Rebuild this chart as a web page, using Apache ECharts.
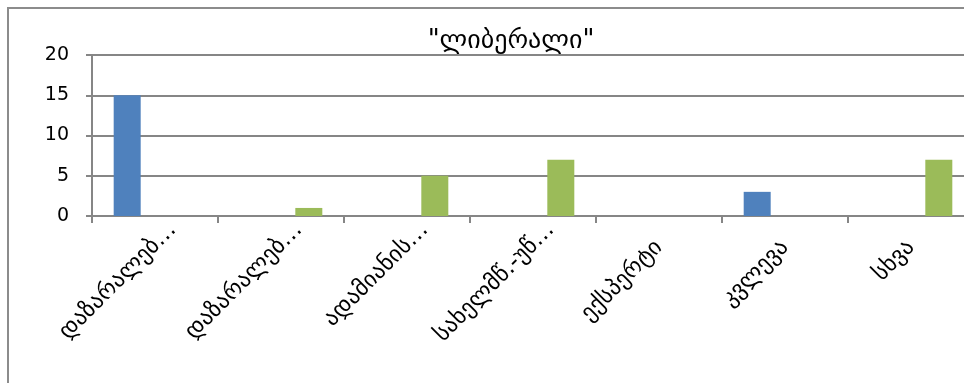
<!DOCTYPE html>
<html>
<head>
<meta charset="utf-8">
<script src="https://cdn.jsdelivr.net/npm/echarts@6/dist/echarts.min.js"></script>
<style>
  html, body { margin: 0; padding: 0; background: #fff; overflow: hidden; }
  #chart { width: 990px; height: 383px; }
</style>
</head>
<body>
<div id="chart"></div>
<script>
// categories (truncated as in the source chart)
const categories = [
  'დაზარალებ…',
  'დაზარალებ…',
  'ადამიანის…',
  'სახელმწ.-უწ…',
  'ექსპერტი',
  'კვლევა',
  'სხვა'
];
const seriesBlue = [15, 0, 0, 0, 0, 3, 0];
const seriesRed = [0, 0, 0, 0, 0, 0, 0];
const seriesGreen = [0, 1, 5, 7, 0, 0, 7];
const yTicks = { min: 0, max: 20, interval: 5 };

const chart = echarts.init(document.getElementById('chart'));

const gray = '#868686';

// truncated labels sit a little further along their slant, like in the original
const xData = categories.map((c) => (
  c.endsWith('…') ? { value: c, textStyle: { padding: [0, -25, 0, 0] } } : c
));

chart.setOption({
  animation: false,
  title: {
    text: '"ლიბერალი"',
    left: 506,
    top: 23,
    textAlign: 'center',
    textStyle: { fontFamily: 'DejaVu Sans', fontSize: 26, fontWeight: 'normal', color: '#000' },
  },
  graphic: [{
    type: 'rect',
    shape: { x: 8, y: 8, width: 1000, height: 420 },
    style: { fill: 'none', stroke: '#8c8c8c', lineWidth: 2 },
    silent: true,
  }],
  grid: { left: 92, top: 55, width: 882, height: 161 },
  xAxis: {
    type: 'category',
    data: xData,
    axisLine: { lineStyle: { color: gray, width: 2 } },
    axisTick: { show: true, length: 7, lineStyle: { color: gray, width: 2 } },
    axisLabel: {
      interval: 0,
      rotate: 45,
      margin: 28,
      fontFamily: 'DejaVu Sans',
      fontSize: 23,
      color: '#000',
    },
  },
  yAxis: {
    type: 'value',
    min: yTicks.min,
    max: yTicks.max,
    interval: yTicks.interval,
    axisLine: { show: true, lineStyle: { color: gray, width: 2 } },
    axisTick: { show: true, length: 6, lineStyle: { color: gray, width: 2 } },
    splitLine: { lineStyle: { color: gray, width: 2 } },
    axisLabel: {
      margin: 23,
      fontFamily: 'DejaVu Sans',
      fontSize: 19,
      color: '#000',
    },
  },
  series: [
    { type: 'bar', data: seriesBlue, barWidth: 27, barGap: '3%', itemStyle: { color: '#4F81BD' } },
    { type: 'bar', data: seriesRed, barWidth: 27, barGap: '3%', itemStyle: { color: '#C0504D' } },
    { type: 'bar', data: seriesGreen, barWidth: 27, barGap: '3%', itemStyle: { color: '#9BBB59' } },
  ],
});
</script>
</body>
</html>
